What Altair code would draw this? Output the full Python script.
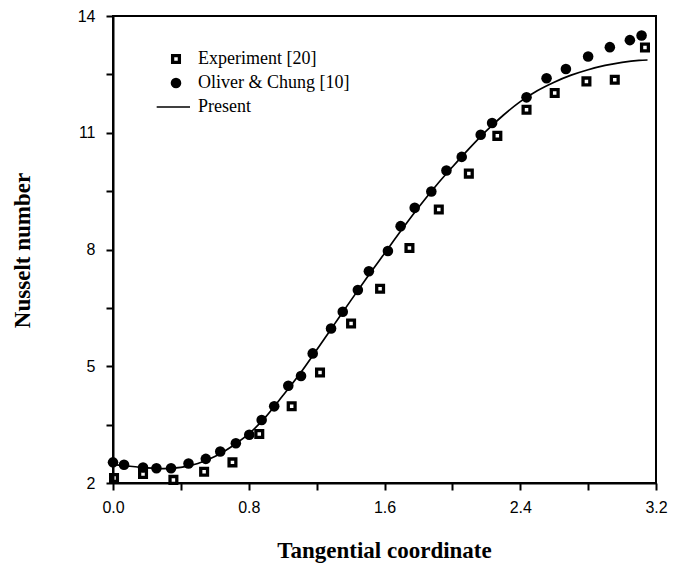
import altair as alt
import pandas as pd

# Oliver & Chung [10]
oc_x = [0.0, 0.065, 0.177, 0.256, 0.342, 0.445, 0.547, 0.632, 0.724, 0.803, 0.876, 0.95,
        1.033, 1.108, 1.177, 1.285, 1.354, 1.443, 1.508, 1.62, 1.695, 1.778, 1.876, 1.965,
        2.055, 2.167, 2.234, 2.437, 2.555, 2.669, 2.80, 2.928, 3.046, 3.115]
oc_y = [2.53, 2.47, 2.40, 2.38, 2.38, 2.50, 2.62, 2.81, 3.02, 3.24, 3.62, 3.97,
        4.50, 4.75, 5.33, 5.97, 6.40, 6.96, 7.44, 7.96, 8.60, 9.07, 9.49, 10.03,
        10.38, 10.95, 11.25, 11.91, 12.40, 12.64, 12.96, 13.20, 13.38, 13.50]

# Experiment [20]
exp_x = [0.006, 0.177, 0.356, 0.537, 0.704, 0.862, 1.053, 1.22, 1.403, 1.574, 1.747,
         1.92, 2.097, 2.265, 2.437, 2.603, 2.79, 2.957, 3.135]
exp_y = [2.13, 2.23, 2.08, 2.29, 2.53, 3.26, 3.97, 4.84, 6.10, 6.99, 8.04,
         9.03, 9.95, 10.92, 11.59, 12.02, 12.32, 12.36, 13.19]

# Present
line_x = [0.0, 0.1, 0.2, 0.3, 0.4, 0.5, 0.6, 0.7, 0.8, 0.9, 1.0, 1.1, 1.2, 1.3, 1.4, 1.5,
          1.6, 1.7, 1.8, 1.9, 2.0, 2.1, 2.2, 2.3, 2.4, 2.5, 2.6, 2.7, 2.8, 2.9, 3.0, 3.1, 3.15]
line_y = [2.48, 2.43, 2.39, 2.37, 2.40, 2.50, 2.68, 2.94, 3.26, 3.70, 4.24, 4.80, 5.42, 6.05,
          6.68, 7.30, 7.90, 8.50, 9.08, 9.62, 10.12, 10.60, 11.05, 11.45, 11.80, 12.08, 12.30,
          12.48, 12.62, 12.73, 12.81, 12.86, 12.87]

series_names = ["Experiment [20]", "Oliver & Chung [10]", "Present"]
x_ticks = [0.0, 0.4, 0.8, 1.2, 1.6, 2.0, 2.4, 2.8, 3.2]
y_ticks = [2, 3.5, 5, 6.5, 8, 9.5, 11, 12.5, 14]

pts = pd.concat([
    pd.DataFrame({"x": exp_x, "y": exp_y, "series": series_names[0]}),
    pd.DataFrame({"x": oc_x, "y": oc_y, "series": series_names[1]}),
])
line_df = pd.DataFrame({"x": line_x, "y": line_y})

x_enc = alt.X("x:Q", scale=alt.Scale(domain=[0, 3.2], nice=False, zero=False),
              axis=alt.Axis(values=x_ticks, ticks=True, tickSize=7, tickWidth=2, tickColor="black",
                            labelFlush=False,
                            labelExpr="round(datum.value*10) % 8 == 0 ? format(datum.value, '.1f') : ''",
                            title="Tangential  coordinate",
                            titleX=271, titleY=74, titleBaseline="alphabetic", titleAlign="center",
                            labelPadding=9))
y_enc = alt.Y("y:Q", scale=alt.Scale(domain=[2, 14], nice=False, zero=False),
              axis=alt.Axis(values=y_ticks, ticks=True, tickSize=7, tickWidth=2, tickColor="black",
                            labelFlush=False,
                            labelExpr="datum.value % 3 == 2 ? datum.label : ''",
                            title="Nusselt  number",
                            titleX=-91, titleY=234, titleAngle=270, titleBaseline="middle",
                            titleAlign="center", labelPadding=11))

# square with a white hole, filled circle, short horizontal line
shape_paths = ["M-0.95,-0.95H0.95V0.95H-0.95Z M-0.33,-0.33V0.33H0.33V-0.33Z",
               "circle",
               "M-3.65,-0.15H2.65V0.15H-3.65Z"]

points = alt.Chart(pts).mark_point(filled=True, color="black", fill="black", strokeWidth=0,
                                   opacity=1, size=112).encode(
    x=x_enc,
    y=y_enc,
    shape=alt.Shape("series:N",
                    scale=alt.Scale(domain=series_names, range=shape_paths),
                    legend=alt.Legend(title=None, orient="none", legendX=54, legendY=34,
                                      labelFont="Liberation Serif", labelFontSize=18,
                                      labelColor="black", labelOffset=13, rowPadding=6,
                                      padding=0, symbolSize=112, symbolFillColor="black",
                                      symbolStrokeWidth=0, symbolOpacity=1)),
)

line = alt.Chart(line_df).mark_line(color="black", strokeWidth=1.7, interpolate="monotone").encode(
    x="x:Q", y="y:Q"
)

chart = alt.layer(line, points).properties(
    width=543, height=467,
    autosize=alt.AutoSizeParams(type="none"),
    padding={"left": 113, "top": 16, "right": 17, "bottom": 90},
    background="white",
).configure_view(
    stroke="black", strokeWidth=2
).configure_axis(
    grid=False,
    domainColor="black", domainWidth=2,
    labelFont="Liberation Sans", labelFontSize=16, labelColor="black",
    titleFont="Liberation Serif", titleFontSize=23, titleFontWeight="bold", titleColor="black",
)

chart.save("out.html", embed_options={"renderer": "svg", "actions": False})
